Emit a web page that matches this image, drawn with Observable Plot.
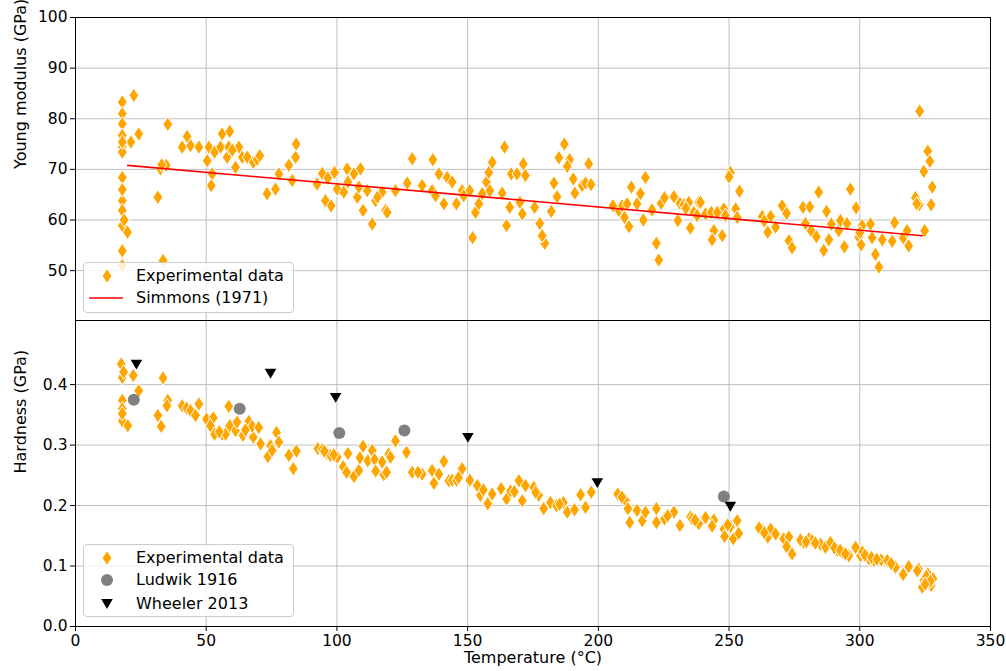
<!DOCTYPE html>
<html><head><meta charset="utf-8">
<script src="https://cdn.jsdelivr.net/npm/d3@7"></script>
<script src="https://cdn.jsdelivr.net/npm/@observablehq/plot@0.6"></script>
<style>
body{margin:0;background:#fff;font-family:"DejaVu Sans",sans-serif;}
#wrap{position:relative;width:1006px;height:671px;overflow:hidden;background:#fff;}
.panel{position:absolute;left:0;}
.legend{position:absolute;box-sizing:border-box;border:1px solid #cccccc;border-radius:4px;background:rgba(255,255,255,0.8);font-size:16px;color:#000;}
.row{position:absolute;left:0;height:22px;display:flex;align-items:center;white-space:nowrap;}
.row svg{position:absolute;left:3px;top:0;}
.row span{position:absolute;left:52px;line-height:22px;top:0;}
</style></head>
<body>
<div id="wrap"></div>
<script>
// ---------- data ----------
const tempYM = [17.9,17.9,17.9,17.9,17.9,17.9,17.9,17.9,17.9,17.9,17.9,17.9,19.9,21.2,22.3,24.2,31.5,32.5,34.7,33.5,35.3,
40.8,42.7,44.0,47.2,50.4,51.0,52.3,51.9,53.2,55.5,56.1,58.0,59.0,58.6,61.2,62.5,63.8,65.7,68.0,69.5,70.5,
73.3,76.5,77.8,81.6,82.9,84.2,84.4,92.4,94.4,95.6,97.8,99.1,100.1,102.6,103.9,104.2,106.5,107.8,109.0,110.0,108.4,
111.6,113.5,114.8,117.3,118.6,119.2,122.4,126.9,128.8,132.6,136.7,136.4,139.0,137.7,140.9,142.2,144.1,145.7,147.9,
150.8,151.9,153.0,154.3,155.6,157.2,158.1,159.4,158.5,163.2,164.1,164.9,166.1,166.7,168.9,171.3,172.1,170.0,170.9,
175.6,177.6,179.5,178.5,182.0,183.0,184.2,184.9,187.0,189.0,188.1,190.4,191.0,193.8,195.1,196.3,197.2,
207.8,209.1,210.0,211.7,211.0,212.6,214.8,216.1,217.2,218.0,222.2,223.1,224.0,225.3,228.9,230.4,231.2,232.7,234.6,
235.2,236.5,238.4,239.1,237.8,241.0,243.2,244.2,243.5,247.4,248.0,248.6,250.5,250.0,252.5,253.1,254.0,
262.7,264.8,265.9,267.8,270.3,272.0,272.9,274.1,278.3,280.9,279.2,281.4,283.4,284.3,286.2,287.3,288.2,289.1,
292.0,292.6,294.1,295.1,296.4,298.6,299.6,300.9,300.5,304.1,304.7,306.0,307.3,308.6,312.4,313.3,316.6,318.1,318.7,
321.3,322.9,322.7,324.5,324.8,326.0,326.8,327.7,327.3,
17.9,17.9,18.6,33.0,60.0,96.5,115.5,148.5,205.6,220.5,233.5,245.5,263.5,300.0,321.8];
const youngModulus = [83.3,81.0,79.0,76.7,74.4,73.4,68.4,63.8,61.9,58.9,53.9,51.0,57.6,75.4,84.6,77.0,64.5,70.1,70.8,52.0,78.9,
74.4,76.5,74.7,74.4,71.7,74.4,69.1,66.8,73.4,74.4,77.0,72.4,77.5,74.4,70.4,74.4,72.4,72.4,71.4,72.0,72.7,
65.2,66.1,69.1,70.8,67.8,72.4,75.0,67.1,69.2,63.8,62.8,69.4,66.1,65.5,70.1,67.5,69.1,64.5,70.1,61.9,66.5,
65.8,59.2,63.8,65.5,61.9,61.5,65.8,67.3,72.1,66.8,71.9,65.8,69.1,64.8,63.2,68.4,67.5,63.2,65.8,
65.8,56.5,61.5,63.2,65.2,67.5,69.4,71.4,65.8,65.3,74.4,58.9,62.5,69.1,69.1,71.1,68.8,63.5,61.2,
62.5,59.3,55.4,56.9,61.7,67.3,64.6,72.3,75.0,71.9,70.6,68.1,65.3,66.8,67.3,71.1,67.0,
61.9,62.8,60.5,58.7,63.2,66.5,63.2,65.2,60.0,68.4,55.4,52.1,63.3,64.4,64.6,59.9,63.3,63.0,63.5,
58.4,61.5,63.5,63.5,60.9,61.2,61.5,57.9,56.1,56.9,62.2,60.9,69.4,68.5,62.2,60.5,65.7,
60.7,57.6,60.7,58.6,62.8,61.3,55.9,54.5,62.5,62.6,59.3,57.9,56.7,65.5,54.0,61.7,56.1,59.2,
57.9,59.9,54.7,59.3,66.1,62.4,56.6,58.9,55.1,59.2,56.5,53.2,50.7,56.1,55.8,59.5,56.5,57.9,54.9,
64.4,81.5,63.0,69.6,57.9,73.6,71.6,66.5,63.0,
75.4,66.0,60.0,70.9,73.8,68.3,64.5,64.8,62.8,62.0,62.3,61.5,59.8,57.5,63.2];

const simmonsTemp = [20, 324];
const simmonsYM = [70.8, 56.9];

const tempH = [17.5,17.9,17.9,17.9,17.9,20.0,22.1,24.2,31.5,32.8,33.5,35.3,35.0,40.8,42.5,44.0,45.9,47.2,50.1,52.7,51.6,53.2,
56.1,57.4,58.6,59.0,61.2,61.8,64.1,66.3,68.0,67.6,70.1,70.8,73.6,74.6,75.2,76.9,77.8,81.6,83.3,84.5,
92.7,94.4,96.0,97.5,100.1,102.4,104.2,103.7,106.5,108.4,108.8,110.0,111.8,113.5,114.4,114.8,117.9,117.3,119.0,119.8,120.5,
122.4,126.6,128.8,132.6,136.4,137.1,139.0,140.9,142.8,144.1,145.7,147.9,150.8,153.7,154.9,157.7,159.4,162.8,164.9,
166.4,167.9,169.6,170.9,172.1,175.3,177.2,179.1,181.7,184.0,186.6,188.1,190.9,193.2,195.1,197.3,
207.4,210.4,212.0,211.3,214.8,216.8,218.0,222.2,222.2,225.3,228.9,231.2,235.2,238.4,235.9,241.0,244.2,243.5,
248.0,248.3,251.6,253.1,253.7,250.5,262.7,264.8,265.9,267.8,270.9,272.9,274.1,272.0,278.6,280.5,281.8,285.0,286.9,
288.8,291.4,293.3,295.8,298.4,300.3,301.0,303.5,305.4,308.2,310.5,313.7,316.6,318.7,322.5,324.5,326.0,327.3,328.0,323.9,
17.9,18.4,55.0,65.0,95.2,98.8,131.0,146.5,156.0,176.0,185.2,209.0,226.5,237.0,249.5,261.5,263.5,277.3,279.5,283.0,
290.3,292.5,294.5,302.0,304.5,306.5,312.0,322.0,325.5,327.0,325.0];
const hardness = [0.434,0.412,0.374,0.360,0.340,0.332,0.415,0.390,0.349,0.331,0.411,0.374,0.365,0.365,0.361,0.357,0.349,0.368,0.343,0.345,0.332,0.318,
0.318,0.318,0.364,0.332,0.324,0.338,0.316,0.339,0.313,0.331,0.329,0.302,0.281,0.299,0.291,0.321,0.305,0.283,0.261,0.290,
0.294,0.292,0.287,0.283,0.280,0.264,0.286,0.255,0.248,0.258,0.279,0.298,0.274,0.291,0.276,0.257,0.251,0.272,0.255,0.285,0.280,
0.307,0.288,0.255,0.252,0.258,0.237,0.252,0.273,0.241,0.242,0.242,0.261,0.242,0.233,0.217,0.203,0.219,0.228,0.211,
0.224,0.223,0.241,0.208,0.233,0.230,0.217,0.195,0.205,0.200,0.205,0.189,0.193,0.218,0.197,0.222,
0.219,0.208,0.172,0.195,0.192,0.175,0.189,0.195,0.172,0.178,0.189,0.167,0.181,0.170,0.178,0.180,0.176,0.166,
0.161,0.149,0.145,0.175,0.154,0.165,0.159,0.148,0.161,0.153,0.145,0.148,0.120,0.132,0.139,0.145,0.142,0.136,0.131,
0.139,0.126,0.123,0.117,0.131,0.117,0.123,0.112,0.109,0.110,0.109,0.098,0.086,0.099,0.095,0.076,0.087,0.068,0.079,0.065,
0.352,0.421,0.322,0.325,0.290,0.284,0.255,0.246,0.226,0.222,0.202,0.214,0.183,0.176,0.168,0.163,0.155,0.143,0.140,0.138,
0.130,0.126,0.120,0.118,0.114,0.111,0.104,0.092,0.083,0.075,0.070];

const ludwikTemp = [22.3, 62.8, 100.9, 125.8, 248.0];
const ludwikH = [0.375, 0.360, 0.320, 0.324, 0.215];
const wheelerTemp = [23.3, 74.6, 99.5, 150.1, 199.6, 250.5];
const wheelerH = [0.433, 0.418, 0.378, 0.312, 0.237, 0.198];

const xTicks = [0, 50, 100, 150, 200, 250, 300, 350];
const ymTicks = [50, 60, 70, 80, 90, 100];
const hTicks = [0.0, 0.1, 0.2, 0.3, 0.4];

// ---------- tables ----------
const ymData = tempYM.map((t, i) => ({t, v: youngModulus[i]}));
const simData = simmonsTemp.map((t, i) => ({t, v: simmonsYM[i]}));
const hData = tempH.map((t, i) => ({t, v: hardness[i]}));
const ludData = ludwikTemp.map((t, i) => ({t, v: ludwikH[i]}));
const wheData = wheelerTemp.map((t, i) => ({t, v: wheelerH[i]}));

// ---------- symbols ----------
const thinDiamond = {draw(ctx, size) {
  const r = Math.sqrt(size / Math.PI), w = r * 0.66;
  ctx.moveTo(0, -r); ctx.lineTo(w, 0); ctx.lineTo(0, r); ctx.lineTo(-w, 0); ctx.closePath();
}};
const triDown = {draw(ctx, size) {
  const r = Math.sqrt(size / Math.PI);
  ctx.moveTo(-r, -r * 0.85); ctx.lineTo(r, -r * 0.85); ctx.lineTo(0, r * 0.85); ctx.closePath();
}};

const ORANGE = "#FFA500";
const GRID = {stroke: "#b0b0b0", strokeOpacity: 0.9, strokeWidth: 0.9};
const style = {fontFamily: "DejaVu Sans", fontSize: "15px", color: "#000", background: "transparent", overflow: "visible"};

const wrap = document.getElementById("wrap");

const topPlot = Plot.plot({
  width: 1006, height: 321, marginTop: 17, marginBottom: 1, marginLeft: 75, marginRight: 16,
  style,
  x: {domain: [0, 350], axis: null},
  y: {domain: [40.15, 100]},
  marks: [
    Plot.gridX(xTicks, GRID),
    Plot.gridY(ymTicks, GRID),
    Plot.dot(ymData, {x: "t", y: "v", symbol: thinDiamond, r: 7.4, fill: ORANGE, stroke: "white", strokeWidth: 1}),
    Plot.line(simData, {x: "t", y: "v", stroke: "red", strokeWidth: 1.6}),
    Plot.frame({stroke: "#000", strokeWidth: 1}),
    Plot.axisY(ymTicks, {tickSize: 5, tickPadding: 3, label: null, fontSize: 15.5}),
    Plot.text(["Young modulus (GPa)"], {frameAnchor: "left", dx: -55, rotate: -90, fontSize: 16})
  ]
});
topPlot.classList.add("panel");
topPlot.style.top = "0px";
wrap.appendChild(topPlot);

const botPlot = Plot.plot({
  width: 1006, height: 351, marginTop: 0, marginBottom: 45, marginLeft: 75, marginRight: 16,
  style,
  x: {domain: [0, 350]},
  y: {domain: [0, 0.506]},
  marks: [
    Plot.gridX(xTicks, GRID),
    Plot.gridY(hTicks, GRID),
    Plot.dot(hData, {x: "t", y: "v", symbol: thinDiamond, r: 7.4, fill: ORANGE, stroke: "white", strokeWidth: 1}),
    Plot.dot(ludData, {x: "t", y: "v", symbol: "circle", r: 6, fill: "#808080"}),
    Plot.dot(wheData, {x: "t", y: "v", symbol: triDown, r: 5.8, fill: "#000"}),
    Plot.frame({stroke: "#000", strokeWidth: 1}),
    Plot.axisY(hTicks, {tickSize: 5, tickPadding: 3, label: null, fontSize: 15.5, tickFormat: d3.format(".1f")}),
    Plot.axisX(xTicks, {tickSize: 5, tickPadding: 3, label: null, fontSize: 15.5}),
    Plot.text(["Hardness (GPa)"], {frameAnchor: "left", dx: -55, rotate: -90, fontSize: 16}),
    Plot.text(["Temperature (°C)"], {frameAnchor: "bottom", dy: 36, fontSize: 16})
  ]
});
botPlot.classList.add("panel");
botPlot.style.top = "320px";
wrap.appendChild(botPlot);

// ---------- legends ----------
function legend(top, height, rows) {
  const box = document.createElement("div");
  box.className = "legend";
  Object.assign(box.style, {left: "83px", top: top + "px", width: "211px", height: height + "px"});
  rows.forEach(([cy, svg, label]) => {
    const r = document.createElement("div");
    r.className = "row";
    r.style.top = (cy - 11) + "px";
    r.innerHTML = `<svg width="40" height="22" viewBox="0 0 40 22">${svg}</svg><span>${label}</span>`;
    box.appendChild(r);
  });
  wrap.appendChild(box);
}
const diamondSvg = `<path d="M20,3.6L24.9,11L20,18.4L15.1,11Z" fill="${ORANGE}" stroke="white" stroke-width="1"/>`;
legend(262, 51, [
  [13, diamondSvg, "Experimental data"],
  [35, `<line x1="2" x2="36" y1="11" y2="11" stroke="red" stroke-width="1.6"/>`, "Simmons (1971)"]
]);
legend(544, 73, [
  [12.5, diamondSvg, "Experimental data"],
  [35.3, `<circle cx="20" cy="11" r="6" fill="#808080"/>`, "Ludwik 1916"],
  [58.5, `<path d="M14.2,6L25.8,6L20,15.9Z" fill="#000"/>`, "Wheeler 2013"]
]);
</script>
</body></html>
